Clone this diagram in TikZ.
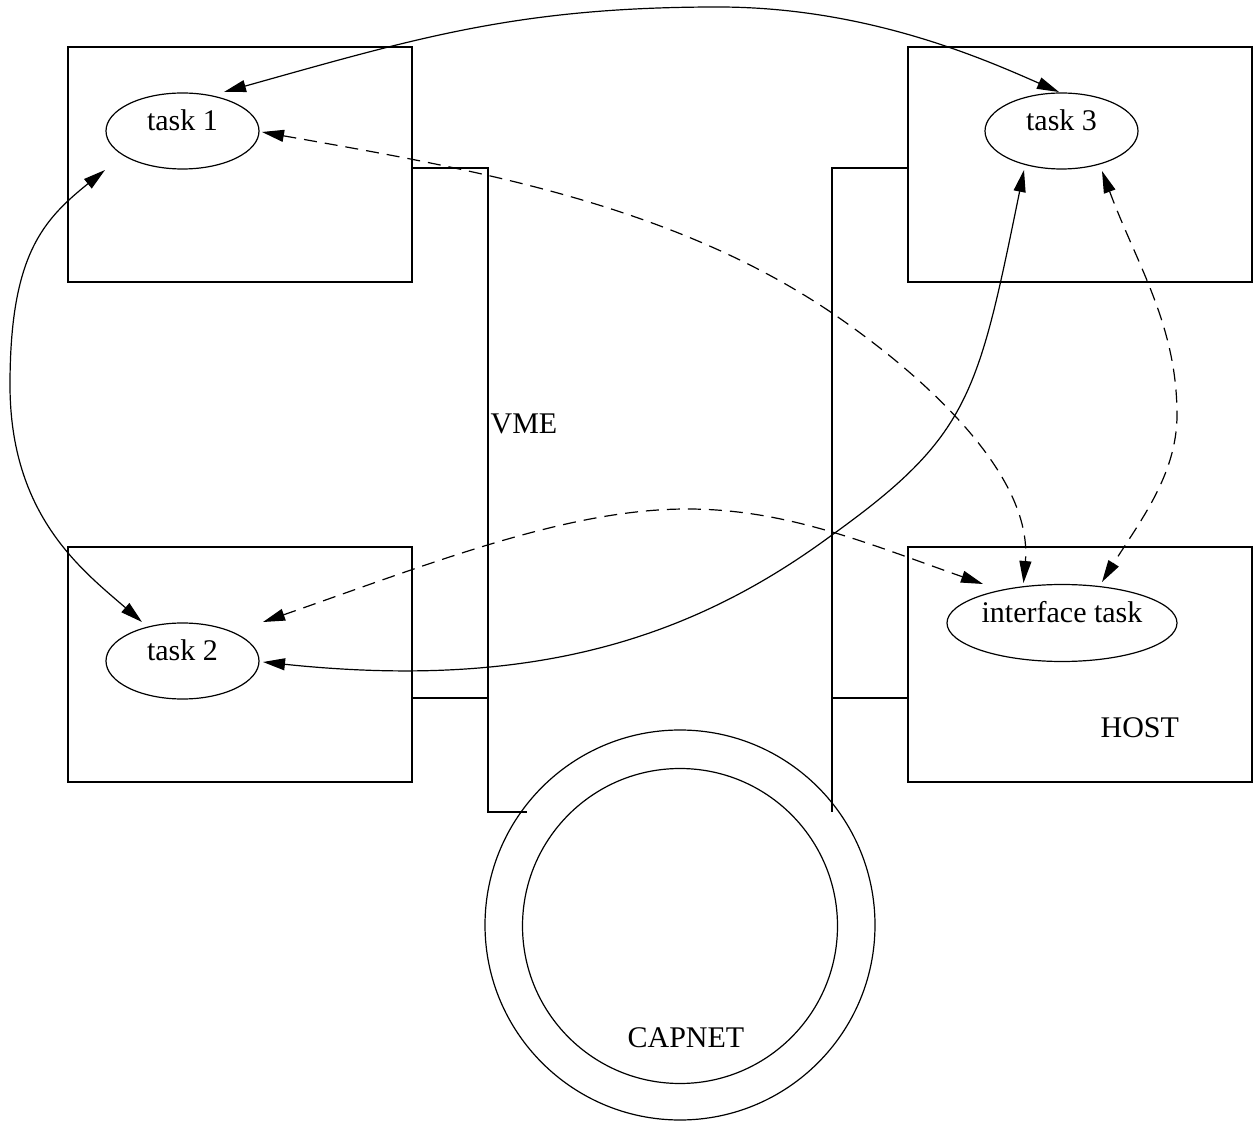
\documentclass[tikz,border=0pt]{standalone}
\usepackage{fontspec}
\setmainfont{Liberation Serif}
\usetikzlibrary{arrows.meta,shapes.geometric,calc}
\begin{document}
\begin{tikzpicture}[x=0.5pt,y=-0.5pt,
  every node/.style={font=\fontsize{15pt}{18pt}\selectfont},
  line width=0.6pt,
  unit/.style={draw,rectangle,minimum width=172pt,minimum height=117.5pt,inner sep=0pt},
  task/.style={draw,ellipse,inner sep=0pt,text height=10pt,text depth=10pt,
    minimum width=76.5pt,minimum height=38pt},
  ring/.style={draw,circle,inner sep=0pt},
  lbl/.style={inner sep=0pt,anchor=base west},
  tip/.style={{Triangle[length=11pt,width=6pt]}-{Triangle[length=11pt,width=6pt]}},
  dsh/.style={dash pattern=on 6.5pt off 4pt}
]
\useasboundingbox (0,0) rectangle (1253,1122);

% boxes
\node[unit] (b1) at (240,164.5) {};
\node[unit] (b3) at (1080,164.5) {};
\node[unit] (b2) at (240,664.5) {};
\node[unit] (bh) at (1080,664.5) {};

% CAPNET rings
\node[ring,minimum size=195pt] (outer) at (680,925) {};
\node[ring,minimum size=157.5pt] (inner) at (680,926) {};

% VME bus
\coordinate (vLt) at (488,168);
\coordinate (vLm) at (488,698);
\coordinate (vLb) at (488,812);
\coordinate (vLe) at (527,812);
\coordinate (vRt) at (832,168);
\coordinate (vRm) at (832,698);
\coordinate (vRb) at (832,812);
\draw (b1.east |- vLt) -- (vLt) -- (vLb) -- (vLe);
\draw (b2.east |- vLm) -- (vLm);
\draw (b3.west |- vRt) -- (vRt) -- (vRb);
\draw (bh.west |- vRm) -- (vRm);

% tasks
\node[task] (t1) at (182.5,131) {task 1};
\node[task] (t3) at (1061.5,131) {task 3};
\node[task] (t2) at (182.5,661) {task 2};
\node[task,minimum width=115pt,minimum height=38.5pt] (it) at (1062,623) {interface task};

% labels
\node[lbl] (vme) at (490,434) {VME};
\node[lbl] (host) at (1100,737) {HOST};
\node[lbl] (capnet) at (627,1047) {CAPNET};

% end points
\coordinate (t1a) at ([shift={(41.5,-39)}]t1.center);
\coordinate (t1b) at ([shift={(79.5,1)}]t1.center);
\coordinate (t1c) at ([shift={(-77.5,39)}]t1.center);
\coordinate (t3a) at ([shift={(-2.5,-39)}]t3.center);
\coordinate (t3b) at ([shift={(-37.5,39)}]t3.center);
\coordinate (t3c) at ([shift={(40.5,40)}]t3.center);
\coordinate (t2a) at ([shift={(-40.5,-39)}]t2.center);
\coordinate (t2b) at ([shift={(80.5,-39)}]t2.center);
\coordinate (t2c) at ([shift={(80.5,1)}]t2.center);
\coordinate (ita) at ([shift={(-79,-39)}]it.center);
\coordinate (itb) at ([shift={(-38.5,-40)}]it.center);
\coordinate (itc) at ([shift={(40,-41)}]it.center);

% connectors
\draw[tip] (t1a) .. controls (417,38) and (518,7) .. (718,7)
  .. controls (868,7) and (986,60) .. (t3a);
\draw[tip] (t1c) .. controls (43,220) and (10,255) .. (10,385)
  .. controls (10,515) and (81.5,569.7) .. (t2a);
\draw[tip,dsh] (t1b) .. controls (459,167) and (667,201) .. (832,313)
  .. controls (923,375) and (1033,474) .. (itb);
\draw[tip] (t2c) .. controls (530,690) and (690,640) .. (832,535)
  .. controls (970,436) and (978,395) .. (t3b);
\draw[tip,dsh] (t2b) .. controls (432,563) and (567,509) .. (687,509)
  .. controls (787,509) and (869,544) .. (ita);
\draw[tip,dsh] (t3c) .. controls (1137,265) and (1177,325) .. (1177,415)
  .. controls (1177,475) and (1139,522.5) .. (itc);
\end{tikzpicture}
\end{document}
